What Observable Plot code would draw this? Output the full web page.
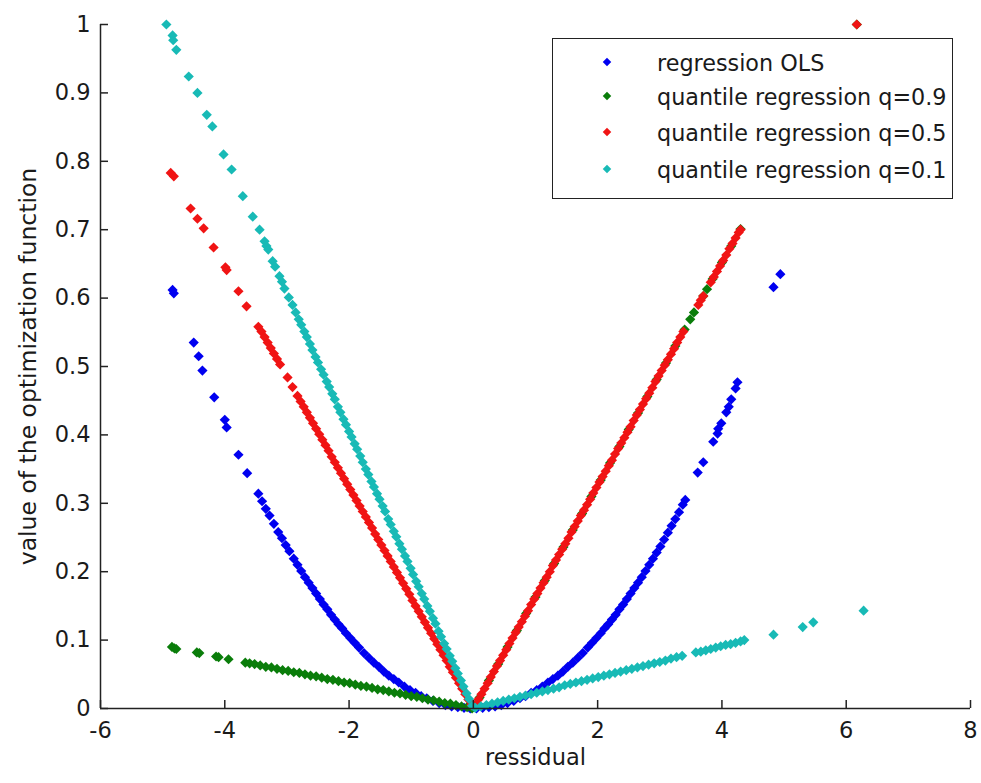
<!DOCTYPE html>
<html>
<head>
<meta charset="utf-8">
<script src="https://cdn.jsdelivr.net/npm/d3@7"></script>
<script src="https://cdn.jsdelivr.net/npm/@observablehq/plot@0.6"></script>
<style>
  html, body { margin: 0; padding: 0; background: #fff; }
  #wrap { position: relative; width: 981px; height: 783px; font-family: "DejaVu Sans", sans-serif; }
  #legend { position: absolute; left: 552px; top: 38px; width: 399px; height: 159px; border: 1.5px solid #222; background: #fff; }
  .row { position: absolute; left: 0; height: 30px; line-height: 30px; font-size: 22.3px; color: #1a1a1a; white-space: nowrap; }
  .row .mk { position: absolute; left: 51px; top: 11px; width: 6px; height: 6px; transform: rotate(45deg); }
  .row .lb { position: absolute; left: 104px; top: 0; }
</style>
</head>
<body>
<div id="wrap"></div>
<script>
// ---- tick labels / categories ----
const xTicks = [-6, -4, -2, 0, 2, 4, 6, 8];
const yTicks = [0, 0.1, 0.2, 0.3, 0.4, 0.5, 0.6, 0.7, 0.8, 0.9, 1];
const seriesNames = ["regression OLS", "quantile regression q=0.9", "quantile regression q=0.5", "quantile regression q=0.1"];
const seriesColors = ["#0000f0", "#0a7d0a", "#f01414", "#18bab6"];
const xLabel = "ressidual";
const yLabel = "value of the optimization function";

// ---- series values: [residual, value] ----
const olsPoints = [
[-4.84,0.612],[-4.82,0.607],[-4.50,0.535],[-4.42,0.515],[-4.36,0.494],[-4.17,0.455],[-4.00,0.422],[-3.97,0.411],[-3.78,0.371],[-3.64,0.344],
[-3.46,0.314],[-3.40,0.303],[-3.34,0.292],[-3.28,0.282],[-3.21,0.270],[-3.14,0.258],[-3.08,0.249],[-3.02,0.239],[-2.96,0.230],[-2.89,0.219],
[-2.83,0.210],[-2.77,0.201],[-2.71,0.192],[-2.65,0.184],[-2.59,0.176],[-2.53,0.168],[-2.47,0.160],[-2.41,0.152],[-2.35,0.145],[-2.29,0.137],
[-2.23,0.130],[-2.17,0.123],[-2.11,0.117],[-2.05,0.110],[-1.98,0.103],[-1.91,0.096],[-1.84,0.089],[-1.76,0.081],[-1.68,0.074],[-1.60,0.067],
[-1.52,0.061],[-1.44,0.054],[-1.36,0.048],[-1.28,0.043],[-1.20,0.038],[-1.11,0.032],[-1.02,0.027],[-0.93,0.023],[-0.84,0.018],[-0.75,0.015],
[-0.65,0.011],[-0.55,0.008],[-0.45,0.005],[-0.35,0.003],[-0.25,0.002],[-0.15,0.001],[-0.05,0.000],
[0.05,0.000],[0.15,0.001],[0.25,0.002],[0.35,0.003],[0.45,0.005],[0.55,0.008],[0.65,0.011],[0.75,0.015],[0.84,0.018],[0.93,0.023],
[1.02,0.027],[1.11,0.032],[1.20,0.038],[1.28,0.043],[1.36,0.048],[1.44,0.054],[1.52,0.061],[1.60,0.067],[1.68,0.074],[1.76,0.081],
[1.84,0.089],[1.91,0.096],[1.98,0.103],[2.05,0.110],[2.11,0.117],[2.17,0.123],[2.23,0.130],[2.29,0.137],[2.35,0.145],[2.41,0.152],
[2.47,0.160],[2.53,0.168],[2.59,0.176],[2.65,0.184],[2.71,0.192],[2.77,0.201],[2.83,0.210],[2.89,0.219],[2.95,0.228],[3.01,0.237],
[3.07,0.247],[3.13,0.257],[3.19,0.267],[3.25,0.277],[3.31,0.287],[3.37,0.298],[3.41,0.305],
[3.61,0.345],[3.70,0.360],[3.86,0.390],[3.93,0.402],[3.94,0.409],[3.99,0.417],[4.07,0.433],[4.11,0.441],[4.15,0.452],[4.22,0.468],[4.25,0.477],
[4.83,0.616],[4.94,0.635]
];

const q90Points = [
[-4.85,0.090],[-4.81,0.088],[-4.78,0.087],[-4.45,0.082],[-4.41,0.081],[-4.14,0.076],[-4.10,0.075],[-3.94,0.072],
[-3.67,0.067],[-3.60,0.066],[-3.52,0.065],[-3.43,0.063],[-3.34,0.061],[-3.25,0.060],[-3.16,0.058],[-3.07,0.056],[-2.98,0.055],[-2.89,0.053],
[-2.80,0.052],[-2.71,0.050],[-2.62,0.048],[-2.53,0.047],[-2.44,0.045],[-2.35,0.043],[-2.26,0.042],[-2.17,0.040],[-2.08,0.038],[-1.99,0.037],
[-1.90,0.035],[-1.81,0.033],[-1.72,0.032],[-1.63,0.030],[-1.54,0.028],[-1.45,0.027],[-1.36,0.025],[-1.27,0.023],[-1.18,0.022],[-1.09,0.020],
[-1.00,0.018],[-0.91,0.017],[-0.82,0.015],[-0.73,0.013],[-0.64,0.012],[-0.55,0.010],[-0.46,0.008],[-0.37,0.007],[-0.28,0.005],[-0.19,0.003],
[-0.10,0.002],[-0.02,0.000],
[0.10,0.016],[0.25,0.041],[0.40,0.065],[0.55,0.090],[0.70,0.114],[0.85,0.139],[1.00,0.163],[1.15,0.187],[1.30,0.212],[1.45,0.236],
[1.60,0.261],[1.75,0.285],[1.90,0.310],[2.05,0.334],[2.20,0.359],[2.35,0.383],[2.50,0.408],[2.65,0.432],[2.80,0.456],[2.95,0.481],
[3.10,0.505],[3.25,0.530],[3.40,0.554],[3.49,0.569],[3.55,0.579],[3.70,0.603],[3.76,0.613],[3.85,0.628],[4.00,0.652],[4.15,0.676],[4.30,0.701],
[6.17,1.000]
];

const q50Points = [
[-4.87,0.783],[-4.82,0.778],[-4.55,0.731],[-4.44,0.716],[-4.34,0.702],[-4.18,0.674],[-3.99,0.645],[-3.97,0.641],[-3.78,0.610],[-3.65,0.588],
[-3.46,0.558],[-3.41,0.551],[-3.36,0.543],[-3.31,0.535],[-3.26,0.527],[-3.21,0.519],[-3.16,0.511],[-3.11,0.503],[-2.99,0.484],[-2.91,0.470],
[-2.83,0.457],[-2.78,0.449],[-2.73,0.441],[-2.68,0.433],[-2.63,0.425],[-2.58,0.417],[-2.53,0.409],[-2.48,0.401],[-2.43,0.393],[-2.38,0.385],
[-2.33,0.377],[-2.28,0.368],[-2.23,0.360],[-2.18,0.352],[-2.13,0.344],[-2.08,0.336],[-2.03,0.328],[-1.98,0.320],[-1.93,0.312],[-1.88,0.304],
[-1.83,0.296],[-1.78,0.288],[-1.73,0.280],[-1.68,0.272],[-1.63,0.264],[-1.58,0.255],[-1.53,0.247],[-1.48,0.239],[-1.43,0.231],[-1.38,0.223],
[-1.33,0.215],[-1.28,0.207],[-1.23,0.199],[-1.18,0.191],[-1.13,0.183],[-1.08,0.175],[-1.03,0.167],[-0.98,0.158],[-0.93,0.150],[-0.88,0.142],
[-0.83,0.134],[-0.78,0.126],[-0.73,0.118],[-0.68,0.110],[-0.63,0.102],[-0.58,0.094],[-0.53,0.086],[-0.48,0.078],[-0.43,0.070],[-0.38,0.061],
[-0.33,0.053],[-0.28,0.045],[-0.23,0.037],[-0.18,0.029],[-0.13,0.021],[-0.08,0.013],[-0.03,0.005],
[0.03,0.005],[0.08,0.013],[0.13,0.021],[0.18,0.029],[0.23,0.037],[0.28,0.046],[0.33,0.054],[0.38,0.062],[0.43,0.070],[0.48,0.078],
[0.53,0.086],[0.58,0.095],[0.63,0.103],[0.68,0.111],[0.73,0.119],[0.78,0.127],[0.83,0.135],[0.88,0.143],[0.93,0.152],[0.98,0.160],
[1.03,0.168],[1.08,0.176],[1.13,0.184],[1.18,0.192],[1.23,0.200],[1.28,0.209],[1.33,0.217],[1.38,0.225],[1.43,0.233],[1.48,0.241],
[1.53,0.249],[1.58,0.258],[1.63,0.266],[1.68,0.274],[1.73,0.282],[1.78,0.290],[1.83,0.298],[1.88,0.306],[1.93,0.315],[1.98,0.323],
[2.03,0.331],[2.08,0.339],[2.13,0.347],[2.18,0.355],[2.23,0.363],[2.28,0.372],[2.33,0.380],[2.38,0.388],[2.43,0.396],[2.48,0.404],
[2.53,0.412],[2.58,0.421],[2.63,0.429],[2.68,0.437],[2.73,0.445],[2.78,0.453],[2.83,0.461],[2.88,0.469],[2.93,0.478],[2.98,0.486],
[3.03,0.494],[3.08,0.502],[3.13,0.510],[3.18,0.518],[3.23,0.526],[3.28,0.535],[3.33,0.543],[3.38,0.551],
[3.62,0.590],[3.66,0.597],[3.70,0.603],
[3.82,0.623],[3.87,0.631],[3.92,0.639],[3.97,0.647],[4.02,0.655],[4.07,0.663],[4.12,0.672],[4.17,0.680],[4.22,0.688],[4.27,0.696],[4.30,0.700],
[6.17,1.000]
];

const q10Points = [
[-4.94,1.000],[-4.84,0.984],[-4.83,0.977],[-4.78,0.963],[-4.58,0.924],[-4.44,0.900],[-4.29,0.868],[-4.20,0.851],[-4.02,0.810],[-3.89,0.788],
[-3.71,0.749],[-3.55,0.719],[-3.44,0.700],[-3.36,0.683],[-3.33,0.676],[-3.30,0.671],[-3.23,0.654],[-3.19,0.646],[-3.12,0.632],[-3.08,0.624],
[-3.04,0.614],[-2.97,0.601],[-2.91,0.590],
[-2.86,0.579],[-2.81,0.569],[-2.77,0.561],[-2.72,0.551],[-2.68,0.543],[-2.63,0.533],[-2.59,0.524],[-2.54,0.514],[-2.50,0.506],[-2.45,0.496],
[-2.41,0.488],[-2.36,0.478],[-2.32,0.470],[-2.27,0.460],[-2.23,0.452],[-2.18,0.441],[-2.14,0.433],[-2.09,0.423],[-2.05,0.415],[-2.00,0.405],
[-1.96,0.397],[-1.91,0.387],[-1.87,0.379],[-1.82,0.369],[-1.78,0.360],[-1.73,0.350],[-1.69,0.342],[-1.64,0.332],[-1.60,0.324],[-1.55,0.314],
[-1.51,0.306],[-1.46,0.296],[-1.42,0.288],[-1.37,0.277],[-1.33,0.269],[-1.28,0.259],[-1.24,0.251],[-1.19,0.241],[-1.15,0.233],[-1.10,0.223],
[-1.06,0.215],[-1.01,0.205],[-0.97,0.196],[-0.92,0.186],[-0.88,0.178],[-0.83,0.168],[-0.79,0.160],[-0.74,0.150],[-0.70,0.142],[-0.65,0.132],
[-0.61,0.124],[-0.56,0.113],[-0.52,0.105],[-0.47,0.095],[-0.43,0.087],[-0.38,0.077],[-0.34,0.069],[-0.29,0.059],[-0.25,0.051],[-0.20,0.041],
[-0.16,0.032],[-0.11,0.022],[-0.07,0.014],[-0.02,0.004],
[0.03,0.001],[0.12,0.003],[0.21,0.005],[0.30,0.007],[0.39,0.009],[0.48,0.011],[0.57,0.013],[0.66,0.015],[0.75,0.017],[0.84,0.019],
[0.93,0.021],[1.02,0.023],[1.11,0.025],[1.20,0.027],[1.29,0.029],[1.38,0.031],[1.47,0.034],[1.56,0.036],[1.65,0.038],[1.74,0.040],
[1.83,0.042],[1.92,0.044],[2.01,0.046],[2.10,0.048],[2.19,0.050],[2.28,0.052],[2.37,0.054],[2.46,0.056],[2.55,0.058],[2.64,0.060],
[2.73,0.062],[2.82,0.064],[2.91,0.066],[3.00,0.068],[3.09,0.070],[3.18,0.073],[3.27,0.075],[3.36,0.077],
[3.58,0.082],[3.66,0.083],[3.74,0.085],[3.82,0.087],[3.90,0.089],[3.98,0.091],[4.06,0.093],[4.14,0.094],[4.22,0.096],[4.30,0.098],[4.36,0.100],
[4.83,0.108],[5.30,0.119],[5.47,0.126],[6.28,0.143]
];

const allSeries = [olsPoints, q90Points, q50Points, q10Points];

const fontFamily = '"DejaVu Sans", sans-serif';
const dotMarks = allSeries.map((pts, i) =>
  Plot.dot(pts, {x: d => d[0], y: d => d[1], symbol: "diamond2", r: 4.6, fill: seriesColors[i], stroke: "none"})
);

const chart = Plot.plot({
  width: 981,
  height: 783,
  marginLeft: 100,
  marginRight: 11,
  marginTop: 24,
  marginBottom: 75,
  style: {fontFamily, fontSize: "22.5px", color: "#1a1a1a", background: "#fff", overflow: "visible"},
  x: {domain: [-6, 8], label: null},
  y: {domain: [0, 1], label: null},
  marks: [
    ...dotMarks,
    Plot.ruleX([-6], {stroke: "#222", strokeWidth: 1.5}),
    Plot.ruleY([0], {stroke: "#222", strokeWidth: 1.5}),
    Plot.tickX(xTicks, {x: d => d, insetTop: 676, stroke: "#222", strokeWidth: 1.5}),
    Plot.tickY(yTicks, {y: d => d, insetRight: 862, stroke: "#222", strokeWidth: 1.5}),
    Plot.axisX({ticks: xTicks, tickSize: 0, tickPadding: 14, tickFormat: d => String(d), label: null, fill: "#1a1a1a"}),
    Plot.axisY({ticks: yTicks, tickSize: 0, tickPadding: 10, tickFormat: d => String(d), label: null, fill: "#1a1a1a"}),
    Plot.text([xLabel], {text: d => d, frameAnchor: "bottom", textAnchor: "middle", dy: 56, fill: "#1a1a1a", fontSize: 22.5}),
    Plot.text([yLabel], {text: d => d, frameAnchor: "left", textAnchor: "middle", dx: -72, rotate: -90, fill: "#1a1a1a", fontSize: 23.5})
  ]
});

const wrap = document.getElementById("wrap");
wrap.appendChild(chart);

// legend (drawn inside the axes area like the original)
const legend = document.createElement("div");
legend.id = "legend";
const rowCenters = [24, 58, 94, 131];
seriesNames.forEach((name, i) => {
  const row = document.createElement("div");
  row.className = "row";
  row.style.top = (rowCenters[i] - 15) + "px";
  const mk = document.createElement("span");
  mk.className = "mk";
  mk.style.background = seriesColors[i];
  const lb = document.createElement("span");
  lb.className = "lb";
  lb.textContent = name;
  row.appendChild(mk);
  row.appendChild(lb);
  legend.appendChild(row);
});
wrap.appendChild(legend);
</script>
</body>
</html>
